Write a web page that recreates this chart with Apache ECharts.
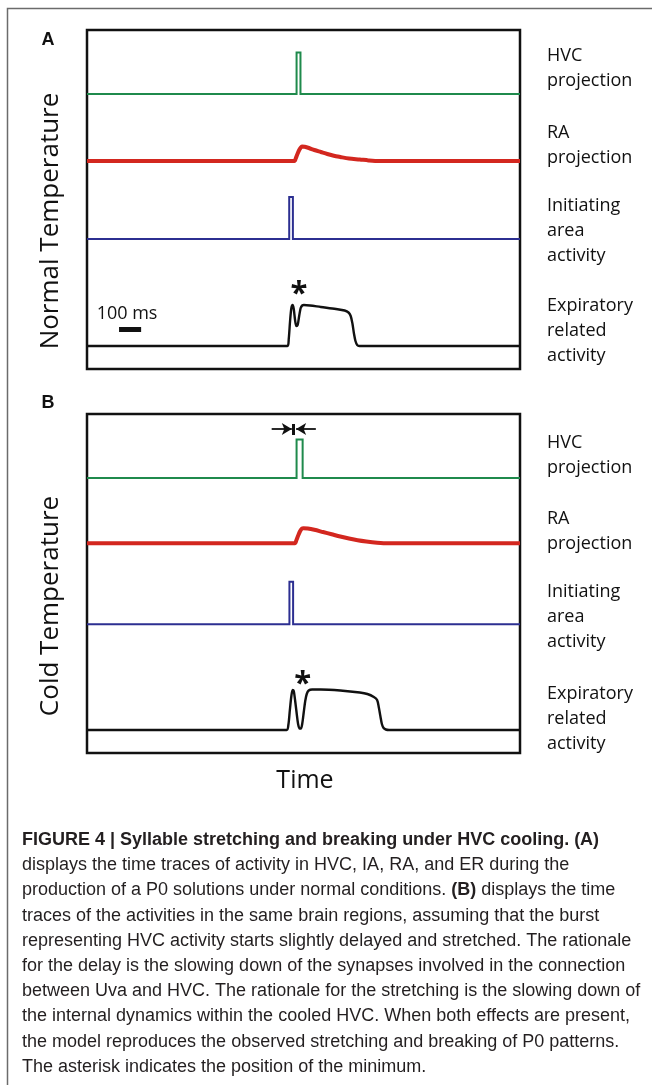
<!DOCTYPE html>
<html>
<head>
<meta charset="utf-8">
<script src="https://cdn.jsdelivr.net/npm/echarts@6/dist/echarts.min.js"></script>
<style>
html,body{margin:0;padding:0;background:#fff;}
#chart{width:652px;height:1085px;}
</style>
</head>
<body>
<div id="chart"></div>
<script>
// ---- DATA (time in ms, activity in normalized units) ----
const hvcNormal = [[0,0],[968,0],[968,0.83],[986,0.83],[986,0],[2000,0]];
const raNormal = [[0,0],[958,0],[964,0.05],[971,0.13],[979,0.21],[986,0.26],[993,0.29],[1005,0.285],[1025,0.26],[1050,0.22],[1080,0.18],[1110,0.14],[1140,0.105],[1170,0.08],[1210,0.05],[1260,0.03],[1300,0.012],[1350,0],[2000,0]];
const iaNormal = [[0,0],[934,0],[934,0.84],[951,0.84],[951,0],[2000,0]];
const erNormal = [[0,0],[926,0],[932,0.15],[938,0.5],[944,0.76],[950,0.82],[955,0.74],[961,0.52],[967,0.4],[973,0.42],[980,0.6],[987,0.76],[994,0.81],[1002,0.82],[1030,0.81],[1080,0.78],[1150,0.74],[1190,0.71],[1208,0.67],[1218,0.6],[1226,0.45],[1233,0.25],[1240,0.1],[1248,0.02],[1258,0],[2000,0]];

const hvcCold = [[0,0],[968,0],[968,0.77],[996,0.77],[996,0],[2000,0]];
const raCold = [[0,0],[960,0],[967,0.06],[975,0.15],[984,0.24],[992,0.29],[1000,0.3],[1020,0.295],[1050,0.27],[1090,0.225],[1130,0.18],[1170,0.135],[1210,0.095],[1250,0.06],[1290,0.035],[1340,0.012],[1390,0],[2000,0]];
const iaCold = [[0,0],[935,0],[935,0.85],[952,0.85],[952,0],[2000,0]];
const erCold = [[0,0],[922,0],[930,0.1],[937,0.4],[944,0.68],[950,0.8],[955,0.78],[961,0.6],[968,0.35],[975,0.12],[982,0.03],[988,0.03],[994,0.12],[1001,0.35],[1008,0.58],[1015,0.72],[1024,0.79],[1040,0.81],[1080,0.81],[1170,0.79],[1260,0.75],[1295,0.72],[1325,0.66],[1340,0.6],[1348,0.45],[1355,0.28],[1362,0.12],[1370,0.04],[1380,0.01],[1395,0],[2000,0]];

const scaleBar = [[148,0.33],[250,0.33]];
const scaleBarLabel = [[185,0.64]];
const minimumNormal = [[979,1.04]];
const minimumCold = [[996,0.92]];
const delayArrows = {leftFrom:853, leftTo:946, bar:953, rightFrom:1057, rightTo:966, level:0.98, barLow:0.86, barHigh:1.08};

const traceLabels = ['HVC\nprojection','RA\nprojection','Initiating\narea\nactivity','Expiratory\nrelated\nactivity'];
const captionLines = [
  '{b|FIGURE 4 | Syllable stretching and breaking under HVC cooling. (A)}',
  'displays the time traces of activity in HVC, IA, RA, and ER during the',
  'production of a P0 solutions under normal conditions. {b|(B)} displays the time',
  'traces of the activities in the same brain regions, assuming that the burst',
  'representing HVC activity starts slightly delayed and stretched. The rationale',
  'for the delay is the slowing down of the synapses involved in the connection',
  'between Uva and HVC. The rationale for the stretching is the slowing down of',
  'the internal dynamics within the cooled HVC. When both effects are present,',
  'the model reproduces the observed stretching and breaking of P0 patterns.',
  'The asterisk indicates the position of the minimum.'
];

// ---- LAYOUT ----
const BOX_L = 87, BOX_W = 433;
const panels = [
  {top:30, bottom:369, base:[94,161,239,346], data:[hvcNormal,raNormal,iaNormal,erNormal]},
  {top:414, bottom:753, base:[478,543.3,624.3,730], data:[hvcCold,raCold,iaCold,erCold]}
];
const colors = ['#1f8a4c','#d3271f','#2c2f91','#111111'];
const widths = [2,4,2,2.4];
const UNIT_H = 60; // px for 0..1.2

const grid=[], xAxis=[], yAxis=[], series=[];
let gi = 0;
const traceGridIdx = [[],[]];
panels.forEach((p,pi)=>{
  grid.push({left:BOX_L, width:BOX_W, top:p.top, height:p.bottom-p.top, show:true, borderColor:'#111', borderWidth:2.5, backgroundColor:'transparent'});
  xAxis.push({type:'value', gridIndex:gi, min:0, max:2000, show:false});
  yAxis.push({type:'value', gridIndex:gi, min:0, max:1, show:false});
  gi++;
  p.base.forEach((b,k)=>{
    grid.push({left:BOX_L, width:BOX_W, top:b-UNIT_H, height:UNIT_H, show:false});
    xAxis.push({type:'value', gridIndex:gi, min:0, max:2000, show:false});
    yAxis.push({type:'value', gridIndex:gi, min:0, max:1.2, show:false});
    traceGridIdx[pi].push(gi);
    series.push({
      type:'line', xAxisIndex:gi, yAxisIndex:gi, data:p.data[k],
      showSymbol:false, symbol:'none', smooth:(k===1||k===3)?0.3:false,
      lineStyle:{color:colors[k], width:widths[k], join:'miter', cap:'butt'},
      silent:true, animation:false, clip:false, z:3
    });
    gi++;
  });
});

function textScatter(idx, data, text, size, weight){
  return {
    type:'scatter', xAxisIndex:idx, yAxisIndex:idx, data:data, symbolSize:1,
    itemStyle:{color:'transparent'}, silent:true, animation:false,
    label:{show:true, position:'inside', formatter:text, fontSize:size, fontWeight:weight||'normal', color:'#111',
      fontFamily:'Open Sans', textBorderWidth:0, opacity:1}
  };
}
// scale bar in panel A
series.push({type:'line', xAxisIndex:traceGridIdx[0][3], yAxisIndex:traceGridIdx[0][3], data:scaleBar, symbol:'none', lineStyle:{color:'#111', width:5, cap:'butt'}, silent:true, animation:false});
series.push(textScatter(traceGridIdx[0][3], scaleBarLabel, '100 ms', 18));
series.push(textScatter(traceGridIdx[0][3], minimumNormal, '*', 31, 'bold'));
series.push(textScatter(traceGridIdx[1][3], minimumCold, '*', 31, 'bold'));
// delay arrows in panel B
const da = delayArrows, gB = traceGridIdx[1][0];
series.push({type:'line', xAxisIndex:gB, yAxisIndex:gB, data:[], silent:true, animation:false,
  markLine:{silent:true, animation:false, symbol:['none','arrow'], symbolSize:[9,10], label:{show:false},
    lineStyle:{color:'#111', width:1.8, type:'solid'},
    data:[
      [{coord:[da.leftFrom,da.level]},{coord:[da.leftTo,da.level]}],
      [{coord:[da.rightFrom,da.level]},{coord:[da.rightTo,da.level]}],
      [{coord:[da.bar,da.barLow], symbol:'none'},{coord:[da.bar,da.barHigh], symbol:'none', lineStyle:{width:3}}]
    ]}
});

// ---- TEXT ----
const graphic = [];
graphic.push({type:'rect', shape:{x:7.5,y:8.5,width:700,height:1200}, style:{fill:'none', stroke:'#6b6b6b', lineWidth:1.5}, silent:true, z:-1});
graphic.push({type:'text', x:48, y:40, style:{text:'A', font:'bold 18px "Liberation Sans"', fill:'#111', textAlign:'center', textVerticalAlign:'middle'}});
graphic.push({type:'text', x:48, y:403, style:{text:'B', font:'bold 18px "Liberation Sans"', fill:'#111', textAlign:'center', textVerticalAlign:'middle'}});
graphic.push({type:'text', x:51, y:221, rotation:Math.PI/2, style:{text:'Normal Temperature', font:'26px "Open Sans"', fill:'#111', textAlign:'center', textVerticalAlign:'middle'}});
graphic.push({type:'text', x:51, y:606, rotation:Math.PI/2, style:{text:'Cold Temperature', font:'26px "Open Sans"', fill:'#111', textAlign:'center', textVerticalAlign:'middle'}});
graphic.push({type:'text', x:305, y:781, style:{text:'Time', font:'25px "Open Sans"', fill:'#111', textAlign:'center', textVerticalAlign:'middle'}});
const labelTops = [[56,133,206,306],[443,519,592,694]];
labelTops.forEach(arr=>arr.forEach((y,k)=>{
  graphic.push({type:'text', x:547, y:y-12.5, style:{text:traceLabels[k], font:'18px "Open Sans"', lineHeight:25, fill:'#111', textAlign:'left', textVerticalAlign:'top'}});
}));
captionLines.forEach((line,i)=>{
  graphic.push({type:'text', x:22, y:840 + i*25.2, style:{
    text:line, fontFamily:'Liberation Sans', fontSize:18, fill:'#231f20', textAlign:'left', textVerticalAlign:'middle',
    rich:{b:{fontFamily:'Liberation Sans', fontSize:18, fontWeight:'bold', fill:'#231f20'}}
  }});
});

const chart = echarts.init(document.getElementById('chart'), null, {renderer:'canvas'});
chart.setOption({backgroundColor:'#ffffff', animation:false, grid, xAxis, yAxis, series, graphic});
</script>
</body>
</html>
